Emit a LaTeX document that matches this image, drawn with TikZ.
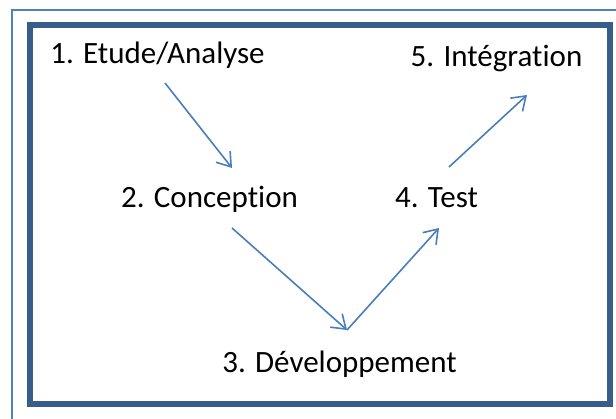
\documentclass[tikz,border=0pt]{standalone}
\usepackage{fontspec}
\setmainfont{Carlito}[Ligatures=NoCommon]
\usepackage{tikz}
\usetikzlibrary{arrows.meta,calc,positioning}
\definecolor{framedark}{RGB}{56,93,138}
\definecolor{framelight}{RGB}{79,129,189}
\definecolor{flowblue}{RGB}{74,126,187}

\tikzset{
    phase/.style={inner sep=0pt, anchor=base, font=\fontsize{31}{37}\selectfont},
    flow/.style={line width=1.6pt, flowblue, -{Straight Barb[length=13pt,width=18pt,line width=1.6pt]}}
}

\begin{document}
\begin{tikzpicture}[x=1pt,y=-1pt]
    \useasboundingbox (0,0) rectangle (616,418);
    
    % Outer frame (cut by the page)
    \begin{scope}
        \clip (0,0) rectangle (616,418);
        \draw[framelight, line width=1.5pt] (12,10) rectangle (660,460);
    \end{scope}
    
    % Inner frame
    \draw[framedark, line width=6pt] (29.5,24.5) rectangle (610,404);
    
    % Phases
    \node[phase] (etude) at (157.5,63) {1. Etude/Analyse};
    \node[phase] (conception) at (209.5,207) {2. Conception};
    \node[phase] (dev) at (339.5,372) {3. Développement};
    \node[phase] (test) at (436.5,207) {4. Test};
    \node[phase] (integ) at (496.5,66) {5. Intégration};
    
    % Arrows between phases
    \draw[flow] ($(etude.base)+(7.5,20)$) -- ($(conception.base)+(22.5,-39)$);
    \draw[flow] ($(conception.base)+(22.5,21)$) -- ($(dev.base)+(7.5,-42)$);
    \draw[flow] ($(dev.base)+(7.5,-42)$) -- ($(test.base)+(2.5,21)$);
    \draw[flow] ($(test.base)+(12.5,-40)$) -- ($(integ.base)+(30.5,29)$);
\end{tikzpicture}
\end{document}
